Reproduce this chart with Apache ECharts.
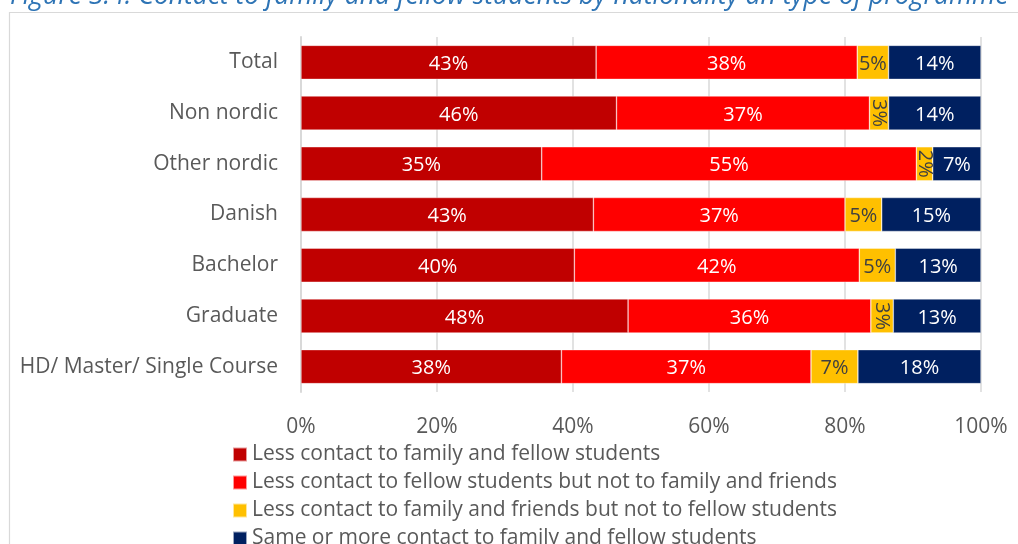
<!DOCTYPE html>
<html>
<head>
<meta charset="utf-8">
<script src="https://cdn.jsdelivr.net/npm/echarts@6/dist/echarts.min.js"></script>
<style>
  html, body { margin: 0; padding: 0; background: #ffffff; }
  #chart { width: 1018px; height: 544px; }
</style>
</head>
<body>
<div id="chart"></div>
<script>
// Groups shown top to bottom
const categories = ['Total', 'Non nordic', 'Other nordic', 'Danish', 'Bachelor', 'Graduate', 'HD/ Master/ Single Course'];

// Share of students (%) in each response group
const lessFamilyAndFellow = [43.4, 46.4, 35.4, 43.0, 40.2, 48.1, 38.3];
const lessFellowNotFamily = [38.4, 37.2, 55.1, 37.0, 41.9, 35.7, 36.7];
const lessFamilyNotFellow = [4.6, 2.8, 2.4, 5.4, 5.3, 3.3, 6.9];
const sameOrMore = [13.6, 13.6, 7.1, 14.6, 12.6, 12.9, 18.1];

const seriesNames = [
  'Less contact to family and fellow students',
  'Less contact to fellow students but not to family and friends',
  'Less contact to family and friends but not to fellow students',
  'Same or more contact to family and fellow students'
];

const xTicks = [0, 20, 40, 60, 80, 100];

const FONT = 'Open Sans';
const TEXT = '#595959';
const SIZE = 21;
const colors = ['#C00000', '#FF0000', '#FFC000', '#002060'];

const chart = echarts.init(document.getElementById('chart'), null, { renderer: 'canvas' });

function pctLabel(p) { return Math.round(p.value) + '%'; }

function makeSeries(name, data, color, labelColor, narrowRotate) {
  return {
    name: name,
    type: 'bar',
    stack: 'all',
    barWidth: 34,
    data: data.map(v => {
      const item = { value: v };
      if (narrowRotate && v < 4) {
        item.label = { rotate: -90, offset: [0, 0] };
      }
      return item;
    }),
    itemStyle: { color: color, borderColor: 'rgba(255,255,255,0.6)', borderWidth: 0.6 },
    label: {
      show: true,
      position: 'inside',
      formatter: pctLabel,
      color: labelColor,
      fontFamily: FONT,
      fontSize: 20,
      offset: [0, 2]
    },
    emphasis: { disabled: true }
  };
}

// One legend block per row so the list stacks in a single column
const legends = seriesNames.map((name, i) => ({
  orient: 'vertical',
  left: 232,
  top: 444 + i * 28,
  padding: 0,
  itemWidth: 14,
  itemHeight: 14,
  icon: 'rect',
  data: [name],
  textStyle: { color: TEXT, fontFamily: FONT, fontSize: SIZE, lineHeight: 20 },
  selectedMode: false
}));

const option = {
  animation: false,
  backgroundColor: '#ffffff',
  textStyle: { fontFamily: FONT },
  graphic: [
    {
      type: 'rect',
      shape: { x: 9.5, y: 12.5, width: 1100, height: 600 },
      style: { fill: 'none', stroke: '#d9d9d9', lineWidth: 1.2 },
      silent: true
    },
    {
      type: 'text',
      left: 10,
      top: -17,
      style: {
        text: 'Figure 3.4: Contact to family and fellow students by nationality an type of programme',
        fill: '#2E74B5',
        font: 'italic 26.5px ' + FONT
      },
      silent: true
    }
  ],
  grid: { left: 301, right: 37, top: 37, bottom: 152, containLabel: false },
  legend: legends,
  xAxis: {
    type: 'value',
    min: xTicks[0],
    max: xTicks[xTicks.length - 1],
    interval: 20,
    axisLine: { show: false },
    axisTick: { show: false },
    splitLine: { lineStyle: { color: '#d9d9d9', width: 1.5 } },
    axisLabel: {
      formatter: '{value}%',
      color: TEXT,
      fontFamily: FONT,
      fontSize: SIZE,
      margin: 25
    }
  },
  yAxis: {
    type: 'category',
    inverse: true,
    data: categories,
    axisLine: { show: true, lineStyle: { color: '#d9d9d9', width: 2 } },
    axisTick: { show: false },
    axisLabel: {
      color: TEXT,
      fontFamily: FONT,
      fontSize: SIZE,
      margin: 23,
      lineHeight: 26,
      padding: [5, 0, 0, 0]
    }
  },
  series: [
    makeSeries(seriesNames[0], lessFamilyAndFellow, colors[0], '#ffffff', false),
    makeSeries(seriesNames[1], lessFellowNotFamily, colors[1], '#ffffff', false),
    makeSeries(seriesNames[2], lessFamilyNotFellow, colors[2], '#404040', true),
    makeSeries(seriesNames[3], sameOrMore, colors[3], '#ffffff', false)
  ]
};

chart.setOption(option);
</script>
</body>
</html>
